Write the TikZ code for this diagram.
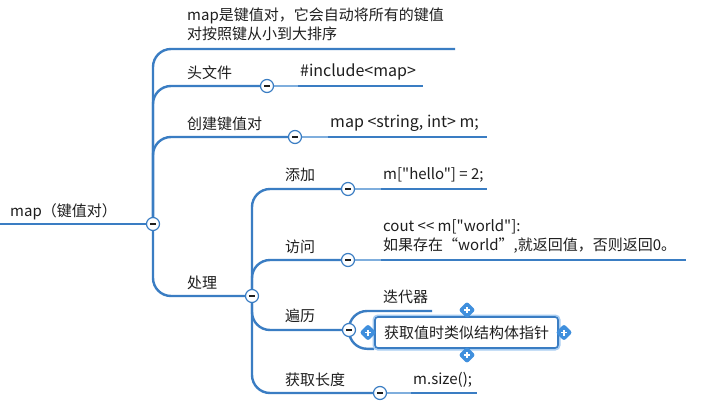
\documentclass[tikz,border=0pt]{standalone}
\usepackage{fontspec}
\setmainfont{Noto Sans CJK SC}[Ligatures=TeXOff]
\usetikzlibrary{shapes.geometric,backgrounds}
\definecolor{lnblue}{HTML}{3A7DC3}
\definecolor{lnlight}{HTML}{7FAEDD}
\definecolor{glow}{HTML}{A8CDF2}
\definecolor{hdl}{HTML}{3F8FDD}
\definecolor{txtc}{HTML}{1E1E1E}
\tikzset{
  txt/.style={font=\fontsize{15}{19}\selectfont, inner sep=0pt, anchor=west, text=txtc, align=left},
  wide/.style={font=\fontsize{16}{19}\selectfont},
  conn/.style={draw=lnblue, line width=2.4pt, rounded corners=18pt},
  connlight/.style={draw=lnlight, line width=2pt},
  tog/.style={circle, draw=lnblue, fill=white, line width=1.2pt, minimum size=13pt, inner sep=0pt,
    path picture={\draw[line width=1.3pt, txtc] ([xshift=-3pt]path picture bounding box.center) -- ([xshift=3pt]path picture bounding box.center);}},
  selbox/.style={draw=lnblue, fill=white, line width=1.6pt, rounded corners=3pt, minimum width=183pt, minimum height=31pt, inner sep=0pt,
    preaction={draw=glow, line width=5pt}, font=\fontsize{15}{19}\selectfont, text=txtc},
  handle/.style={diamond, fill=hdl, rounded corners=2.5pt, minimum size=17pt, inner sep=0pt,
    path picture={\draw[white, line width=1.5pt] ([xshift=-3pt]path picture bounding box.center) -- ([xshift=3pt]path picture bounding box.center)
      ([yshift=-3pt]path picture bounding box.center) -- ([yshift=3pt]path picture bounding box.center);}},
}
\begin{document}
\begin{tikzpicture}[x=1pt,y=-1pt]
\useasboundingbox (0,0) rectangle (709,407);

% root
\node[txt] (root) at (10,212) {map（键值对）};
\coordinate (r0) at (0,224);
\node[tog] (c0) at (153,224) {};

% level 1
\node[txt] (t1) at (187,24) {map是键值对，它会自动将所有的键值\\对按照键从小到大排序};
\coordinate (e1) at (455,49);

\node[txt] (t2) at (187,73) {头文件};
\node[tog] (c2) at (267,86) {};
\node[txt,wide] (k2) at (300,72) {\#include<map>};
\coordinate (u2) at (298,86);
\coordinate (e2) at (423,86);

\node[txt] (t3) at (187,124) {创建键值对};
\node[tog] (c3) at (295,137) {};
\node[txt,wide] (k3) at (330,123) {map <string, int> m;};
\coordinate (u3) at (328,137);
\coordinate (e3) at (487,137);

\node[txt] (t4) at (187,283) {处理};
\node[tog] (c4) at (252,296) {};

% level 2
\node[txt] (t5) at (285,175) {添加};
\node[tog] (c5) at (348,189) {};
\node[txt] (k5) at (383,175) {m["hello"] = 2;};
\coordinate (u5) at (381,189);
\coordinate (e5) at (487,189);

\node[txt] (t6) at (285,247) {访问};
\node[tog] (c6) at (348,260) {};
\node[txt] (k6) at (383,236) {cout << m["world"]:\\如果存在“world”,就返回值，否则返回0。};
\coordinate (u6) at (381,260);
\coordinate (e6) at (686,260);

\node[txt] (t7) at (285,316) {遍历};
\node[tog] (c7) at (349,330) {};
\node[txt] (k7) at (383,297) {迭代器};
\coordinate (e7) at (432,311);
\node[selbox] (b8) at (466.5,332.5) {获取值时类似结构体指针};
\node[handle] (h1) at (467,310) {};
\node[handle] (h2) at (467,355) {};
\node[handle] (h3) at (368,332.5) {};
\node[handle] (h4) at (564,332.5) {};

\node[txt] (t9) at (285,380) {获取长度};
\node[tog] (c9) at (380,393) {};
\node[txt] (k9) at (413,380) {m.size();};
\coordinate (u9) at (411,393);
\coordinate (e9) at (477,393);

\begin{pgfonlayer}{background}
\fill[white] (0,0) rectangle (709,407);
\draw[conn] (r0) -- (c0);
\draw[conn] (c0) |- (e1);
\draw[conn] (c0) |- (c2);
\draw[conn] (c0) |- (c3);
\draw[conn] (c0) |- (c4);
\draw[connlight] (c2) -- (u2);
\draw[conn] (u2) -- (e2);
\draw[connlight] (c3) -- (u3);
\draw[conn] (u3) -- (e3);

\draw[conn] (c4) |- (c5);
\draw[conn] (c4) |- (c6);
\draw[conn] (c4) |- (c7);
\draw[conn] (c4) |- (c9);
\draw[connlight] (c5) -- (u5);
\draw[conn] (u5) -- (e5);
\draw[connlight] (c6) -- (u6);
\draw[conn] (u6) -- (e6);
\draw[connlight] (c9) -- (u9);
\draw[conn] (u9) -- (e9);

\draw[conn] (c7) |- (e7);
\draw[conn] (c7) |- (b8.south west);
\end{pgfonlayer}
\end{tikzpicture}
\end{document}
